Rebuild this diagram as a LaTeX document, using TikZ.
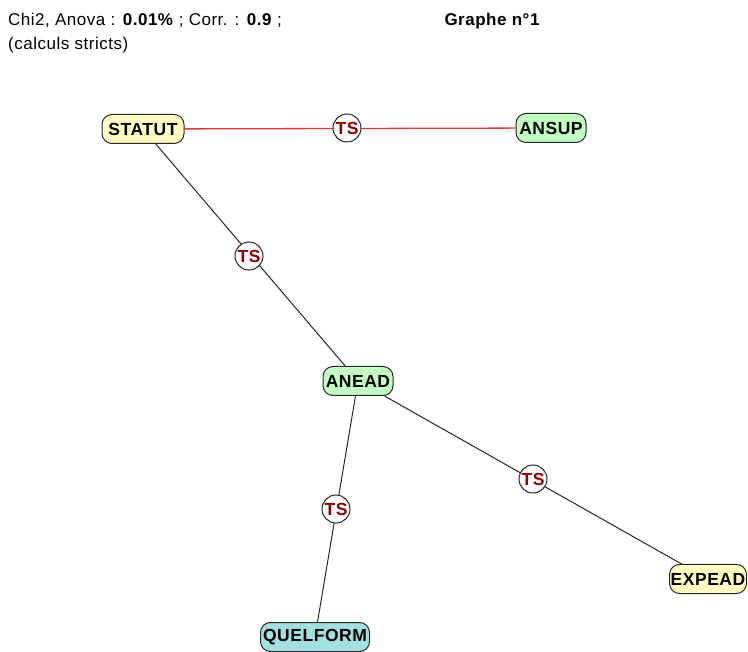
\documentclass[tikz,border=0pt]{standalone}
\usepackage{fontspec}
\setmainfont{Liberation Sans}
\definecolor{yel}{RGB}{255,255,192}
\definecolor{grn}{RGB}{192,255,192}
\definecolor{cyn}{RGB}{160,224,224}
\definecolor{tsred}{RGB}{140,0,0}
\definecolor{lnred}{RGB}{240,50,50}
\newcommand{\nodefont}{\fontsize{17.5}{19}\selectfont\bfseries\addfontfeature{LetterSpace=3}}
\newcommand{\headfont}{\fontsize{17}{19}\selectfont\addfontfeature{LetterSpace=3}}
\begin{document}
\begin{tikzpicture}[x=1pt,y=-1pt,
  var/.style={draw=black!85,line width=1pt,rounded corners=10pt,inner sep=0pt,minimum height=29pt,font=\nodefont},
  ts/.style={circle,draw=black!85,fill=white,line width=1pt,inner sep=0pt,minimum size=28pt,text=tsred,font=\nodefont},
  link/.style={line width=1pt,black!85},
  redlink/.style={line width=1.3pt,lnred}]
\useasboundingbox (0,0) rectangle (748,652);
\node[anchor=base west,font=\headfont,inner sep=0pt] (h1) at (8,26) {Chi2, Anova : \textbf{0.01\%} ; Corr. : \textbf{0.9} ;};
\node[anchor=base west,font=\headfont,inner sep=0pt] (h2) at (8,50) {(calculs stricts)};
\node[anchor=base,font=\headfont\bfseries,inner sep=0pt] (title) at (492,26) {Graphe n°1};
\node[var,fill=yel,minimum width=82pt] (statut) at (143,129) {STATUT};
\node[var,fill=grn,minimum width=70pt] (ansup) at (551,128) {ANSUP};
\node[var,fill=grn,minimum width=70pt] (anead) at (358,381) {ANEAD};
\node[var,fill=cyn,minimum width=109pt] (quelform) at (315,637) {QUELFORM};
\node[var,fill=yel,minimum width=77pt] (expead) at (708,579) {EXPEAD};
\draw[redlink] (statut) -- (ansup);
\draw[link] (statut) -- (anead);
\draw[link] (anead) -- (quelform);
\draw[link] (anead) -- (expead);
\node[ts] (ts1) at (347,128) {TS};
\node[ts] (ts2) at (249,256) {TS};
\node[ts] (ts3) at (336,509) {TS};
\node[ts] (ts4) at (533,479) {TS};
\end{tikzpicture}
\end{document}
